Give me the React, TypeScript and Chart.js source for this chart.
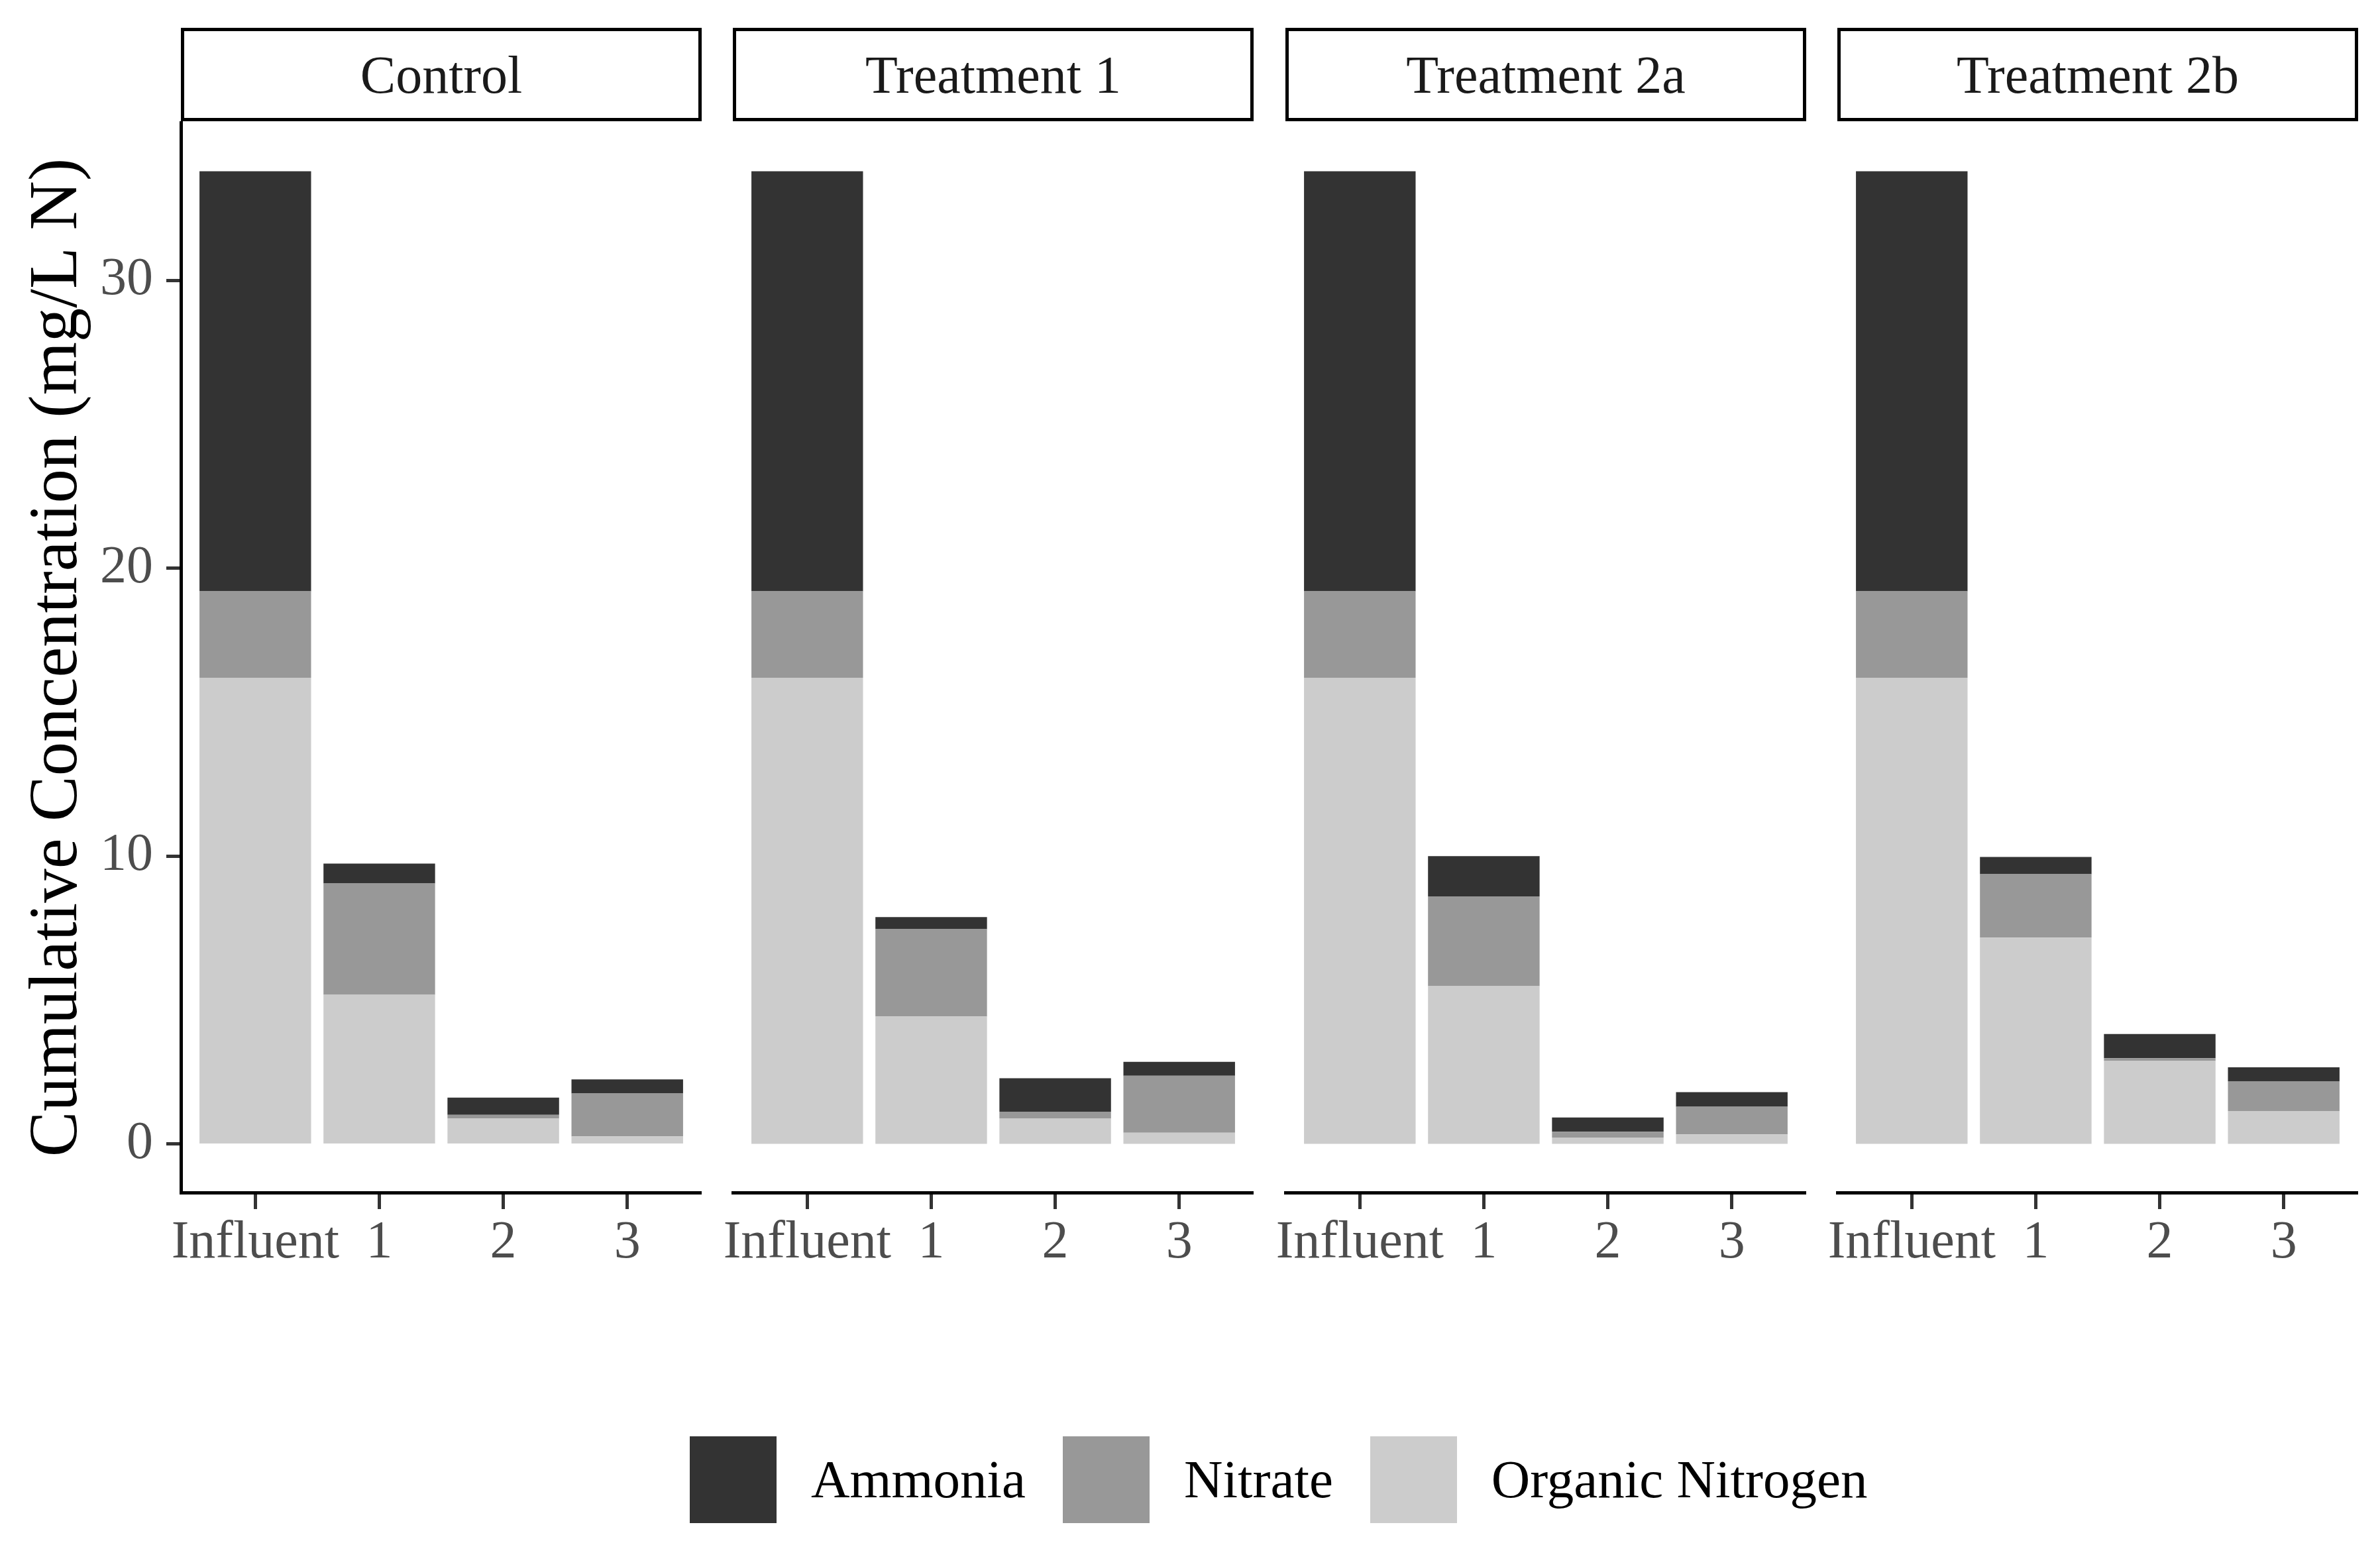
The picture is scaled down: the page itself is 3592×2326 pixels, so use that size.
import React, { useEffect, useRef } from 'react';
import { Chart, registerables } from 'chart.js';

Chart.register(...registerables);

// ---------- data ----------
const panels = ['Control', 'Treatment 1', 'Treatment 2a', 'Treatment 2b'];
const stages = ['Influent', '1', '2', '3'];
const seriesNames = ['Ammonia', 'Nitrate', 'Organic Nitrogen'];
const yTickValues = [0, 10, 20, 30];

// rows = panels, columns = stages
const organicN = [
  [16.2, 5.18, 0.88, 0.26],
  [16.2, 4.43, 0.89, 0.39],
  [16.2, 5.48, 0.22, 0.33],
  [16.2, 7.17, 2.88, 1.14],
];
const nitrate = [
  [3.0, 3.87, 0.13, 1.49],
  [3.0, 3.03, 0.23, 1.98],
  [3.0, 3.12, 0.2, 0.96],
  [3.0, 2.2, 0.1, 1.04],
];
const ammonia = [
  [14.6, 0.69, 0.6, 0.49],
  [14.6, 0.42, 1.16, 0.48],
  [14.6, 1.4, 0.5, 0.51],
  [14.6, 0.6, 0.84, 0.48],
];

// ---------- style / layout ----------
const COLORS = { ammonia: '#333333', nitrate: '#989898', organic: '#CCCCCC' };
const FONT = "'Liberation Serif', 'DejaVu Serif', serif";
const PANEL_L0 = 273;
const PANEL_STRIDE = 833.3;
const PANEL_W = 786;
const PLOT_TOP = 185;
const PLOT_BOTTOM = 1800;
const CANVAS_TOP = 100;
const CANVAS_BOTTOM = 1995;
const SIDE_PAD = 50;
const Y_MIN = -1.69;
const Y_MAX = 35.49;

const panelLeft = (i: number) => Math.round(PANEL_L0 + i * PANEL_STRIDE);

function Panel({ idx }: { idx: number }) {
  const ref = useRef<HTMLCanvasElement>(null);
  const first = idx === 0;
  const left = first ? 0 : panelLeft(idx) - SIDE_PAD;
  const width = panelLeft(idx) + PANEL_W - left;
  const height = CANVAS_BOTTOM - CANVAS_TOP;

  useEffect(() => {
    if (!ref.current) return;
    const mk = (vals: number[]) => vals.map((v, k) => ({ x: k, y: v }));
    const barCommon = {
      grouped: false,
      barPercentage: 0.9,
      categoryPercentage: 1,
      borderWidth: 0,
    };
    const chart = new Chart(ref.current, {
      type: 'bar',
      data: {
        datasets: [
          { label: seriesNames[2], data: mk(organicN[idx]), backgroundColor: COLORS.organic, ...barCommon },
          { label: seriesNames[1], data: mk(nitrate[idx]), backgroundColor: COLORS.nitrate, ...barCommon },
          { label: seriesNames[0], data: mk(ammonia[idx]), backgroundColor: COLORS.ammonia, ...barCommon },
        ],
      } as any,
      options: {
        animation: false,
        responsive: false,
        devicePixelRatio: 1,
        layout: {
          padding: { top: PLOT_TOP - CANVAS_TOP, left: first ? 0 : SIDE_PAD, right: 0, bottom: 0 },
        },
        plugins: { legend: { display: false }, tooltip: { enabled: false } },
        scales: {
          x: {
            type: 'linear',
            offset: false,
            min: -0.6,
            max: 3.6,
            afterBuildTicks: (s: any) => {
              s.ticks = stages.map((_, k) => ({ value: k }));
            },
            afterFit: (s: any) => {
              s.height = CANVAS_BOTTOM - PLOT_BOTTOM;
            },
            ticks: {
              callback: (v: any) => stages[Number(v)] ?? '',
              font: { family: FONT, size: 80 },
              color: '#4D4D4D',
              padding: 4,
              maxRotation: 0,
              autoSkip: false,
            },
            grid: {
              offset: false,
              drawOnChartArea: false,
              drawTicks: true,
              tickLength: 25,
              tickWidth: 5,
              tickColor: '#333333',
            },
            border: { display: true, color: '#000000', width: 5 },
          },
          y: {
            type: 'linear',
            stacked: true,
            display: first,
            min: Y_MIN,
            max: Y_MAX,
            afterBuildTicks: (s: any) => {
              s.ticks = yTickValues.map((v) => ({ value: v }));
            },
            afterFit: (s: any) => {
              s.width = first ? PANEL_L0 : 0;
            },
            ticks: {
              font: { family: FONT, size: 80 },
              color: '#4D4D4D',
              padding: 20,
            },
            grid: {
              drawOnChartArea: false,
              drawTicks: true,
              tickLength: 22,
              tickWidth: 5,
              tickColor: '#333333',
            },
            border: { display: true, color: '#000000', width: 5 },
            title: {
              display: true,
              text: 'Cumulative Concentration (mg/L N)',
              font: { family: FONT, size: 103 },
              color: '#000000',
              padding: { top: 26, bottom: 0 },
            },
          },
        },
      } as any,
    });
    return () => chart.destroy();
  }, [idx]);

  return (
    <canvas
      ref={ref}
      width={width}
      height={height}
      style={{ position: 'absolute', left, top: CANVAS_TOP, width, height }}
    />
  );
}

function Strip({ idx }: { idx: number }) {
  return (
    <div
      style={{
        position: 'absolute',
        left: panelLeft(idx),
        top: 42,
        width: PANEL_W,
        height: 141,
        boxSizing: 'border-box',
        border: '5px solid #000',
        background: '#fff',
        display: 'flex',
        alignItems: 'center',
        justifyContent: 'center',
        fontFamily: FONT,
        fontSize: 80,
        color: '#1A1A1A',
        lineHeight: 1,
      }}
    >
      {panels[idx]}
    </div>
  );
}

function Legend() {
  const items = [
    { name: seriesNames[0], color: COLORS.ammonia },
    { name: seriesNames[1], color: COLORS.nitrate },
    { name: seriesNames[2], color: COLORS.organic },
  ];
  return (
    <div
      style={{
        position: 'absolute',
        left: 1041,
        top: 2168,
        height: 131,
        display: 'flex',
        alignItems: 'center',
        fontFamily: FONT,
        fontSize: 81,
        color: '#000',
        whiteSpace: 'nowrap',
      }}
    >
      {items.map((it, k) => (
        <div key={it.name} style={{ display: 'flex', alignItems: 'center', marginRight: k < 2 ? 56 : 0 }}>
          <div style={{ width: 131, height: 131, background: it.color, marginRight: 52 }} />
          <span>{it.name}</span>
        </div>
      ))}
    </div>
  );
}

export default function App() {
  useEffect(() => {
    document.body.style.margin = '0';
    document.documentElement.style.overflow = 'hidden';
  }, []);
  return (
    <div style={{ position: 'relative', width: 3592, height: 2326, background: '#fff', overflow: 'hidden' }}>
      {panels.map((_, i) => (
        <Strip key={'s' + i} idx={i} />
      ))}
      {panels.map((_, i) => (
        <Panel key={'p' + i} idx={i} />
      ))}
      <Legend />
    </div>
  );
}
